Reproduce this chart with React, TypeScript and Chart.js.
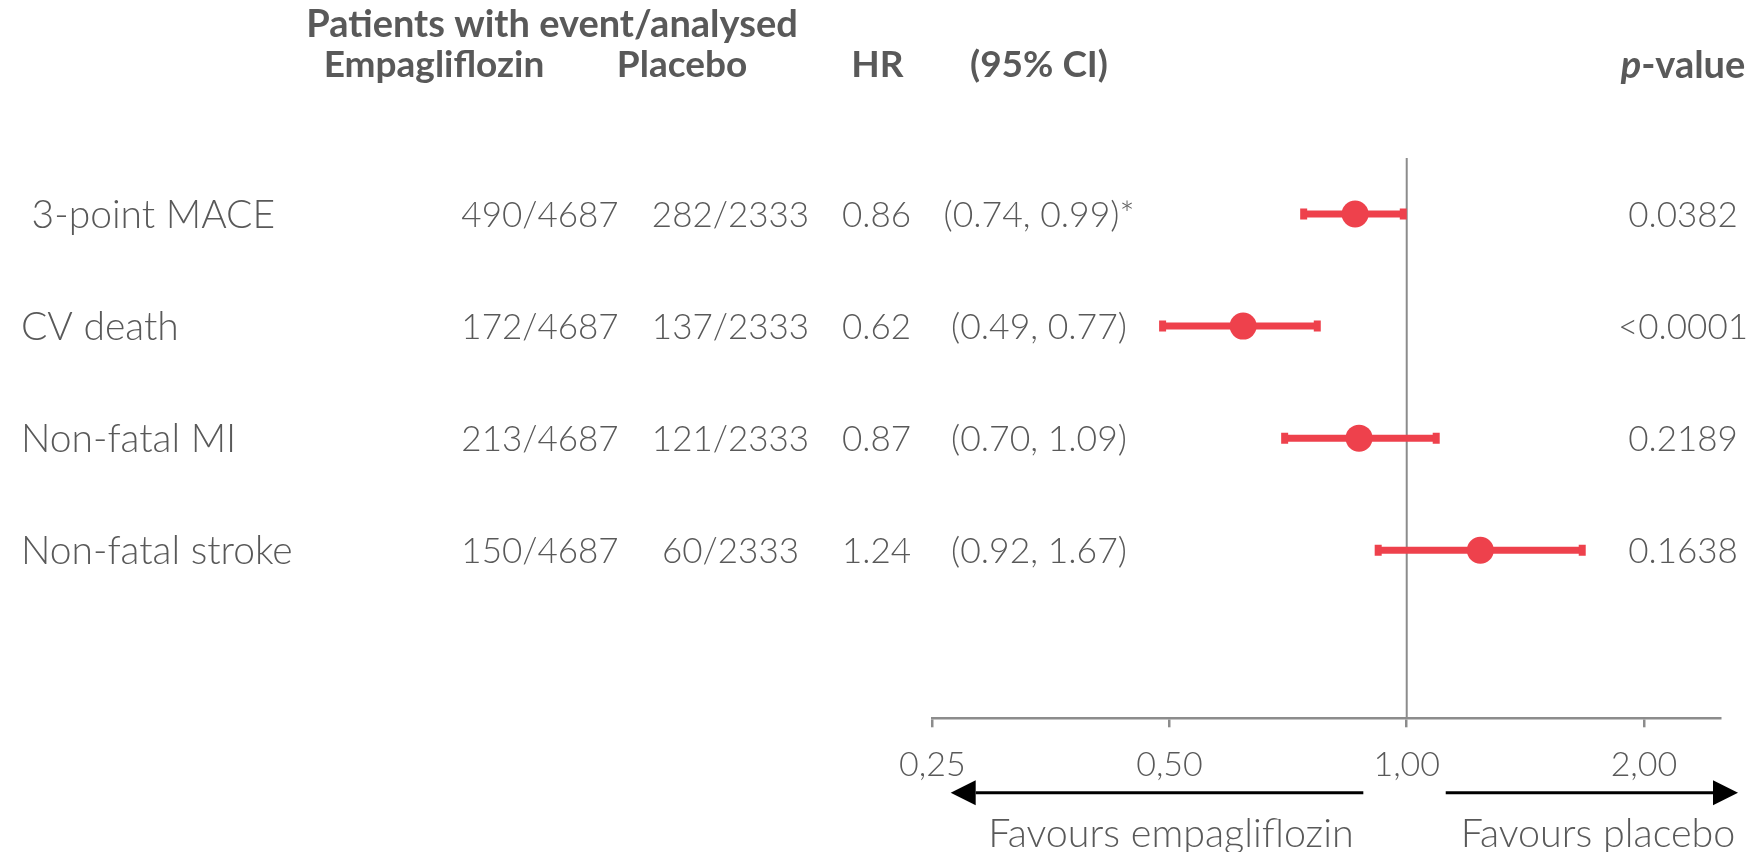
import React, { useEffect, useRef } from "react";
import { Chart, registerables } from "chart.js";

Chart.register(...registerables);

// ---- data ----
const OUTCOMES = [" 3-point MACE", "CV death", "Non-fatal MI", "Non-fatal stroke"];
const EMPA_EVENTS = ["490/4687", "172/4687", "213/4687", "150/4687"];
const PLACEBO_EVENTS = ["282/2333", "137/2333", "121/2333", "60/2333"];
const HR = [0.86, 0.62, 0.87, 1.24];
const CI_LOW = [0.74, 0.49, 0.7, 0.92];
const CI_HIGH = [0.99, 0.77, 1.09, 1.67];
const CI_NOTE = ["*", "", "", ""];
const P_VALUES = ["0.0382", "<0.0001", "0.2189", "0.1638"];
const X_TICKS = [0.25, 0.5, 1, 2];
const X_MIN = 0.25;
const X_MAX = 2.5;
const HEADER_TOP = "Patients with event/analysed";
const HEADER_COLS = ["Empagliflozin", "Placebo", "HR", "(95% CI)"];
const FAVOURS_LEFT = "Favours empagliflozin";
const FAVOURS_RIGHT = "Favours placebo";

// ---- styles ----
const RED = "#EE414C";
const TEXT = "#595959";
const AXIS = "#8c8c8c";
const FONT = "Lato, 'Open Sans', 'DejaVu Sans', sans-serif";

function drawText(
  ctx: CanvasRenderingContext2D,
  str: string,
  x: number,
  yc: number,
  size: number,
  weight: number | string,
  align: CanvasTextAlign,
  color = TEXT
) {
  ctx.font = `${weight} ${size}px ${FONT}`;
  ctx.fillStyle = color;
  ctx.textAlign = align;
  ctx.textBaseline = "alphabetic";
  ctx.fillText(str, x, yc + size * 0.36);
}

const tablePlugin = {
  id: "forestTable",
  afterDraw(chart: any) {
    const ctx: CanvasRenderingContext2D = chart.ctx;
    const ys = chart.scales.y;
    const xs = chart.scales.x;
    const area = chart.chartArea;
    ctx.save();

    // headers
    drawText(ctx, HEADER_TOP, 552, 23.5, 38, 700, "center");
    const hx = [434, 682, 877.5, 1039];
    HEADER_COLS.forEach((h, i) => drawText(ctx, h, hx[i], 64, 37, 700, "center"));
    // p-value header with italic p
    const hs = 38;
    ctx.font = `italic 700 ${hs}px ${FONT}`;
    const wp = ctx.measureText("p").width;
    ctx.font = `700 ${hs}px ${FONT}`;
    const wr = ctx.measureText("-value").width;
    const startX = 1683 - (wp + wr) / 2;
    drawText(ctx, "p", startX, 64, hs, "italic 700", "left");
    drawText(ctx, "-value", startX + wp, 64, hs, 700, "left");

    // rows
    OUTCOMES.forEach((name, i) => {
      const yc = ys.getPixelForValue(i);
      drawText(ctx, name, 21, yc, 39, 300, "left");
      drawText(ctx, EMPA_EVENTS[i], 540, yc, 35, 300, "center");
      drawText(ctx, PLACEBO_EVENTS[i], 730.5, yc, 35, 300, "center");
      drawText(ctx, HR[i].toFixed(2), 876.5, yc, 35, 300, "center");
      const ci = `(${CI_LOW[i].toFixed(2)}, ${CI_HIGH[i].toFixed(2)})${CI_NOTE[i]}`;
      drawText(ctx, ci, 1039, yc, 35.5, 300, "center");
      drawText(ctx, P_VALUES[i], 1683, yc, 35, 300, "center");
    });

    // arrows
    const ay = 792.7;
    const x1 = xs.getPixelForValue(1);
    const drawArrow = (from: number, to: number) => {
      const dir = Math.sign(to - from);
      const headLen = 25;
      ctx.strokeStyle = "#000";
      ctx.lineWidth = 3;
      ctx.beginPath();
      ctx.moveTo(from, ay);
      ctx.lineTo(to - dir * headLen, ay);
      ctx.stroke();
      ctx.fillStyle = "#000";
      ctx.beginPath();
      ctx.moveTo(to, ay);
      ctx.lineTo(to - dir * headLen, ay - 12.5);
      ctx.lineTo(to - dir * headLen, ay + 12.5);
      ctx.closePath();
      ctx.fill();
    };
    drawArrow(x1 - 43.4, area.left + 18.4);
    drawArrow(x1 + 39, area.right + 17.7);

    drawText(ctx, FAVOURS_LEFT, 1171, 832.5, 39.5, 300, "center");
    drawText(ctx, FAVOURS_RIGHT, 1598, 832.5, 39.5, 300, "center");

    ctx.restore();
  },
};

export default function App() {
  const ref = useRef<HTMLCanvasElement | null>(null);

  useEffect(() => {
    document.body.style.margin = "0";
    if (!ref.current) return;
    const rows = OUTCOMES.map((_, i) => i);

    const ciSets = rows.map((i) => ({
      type: "scatter" as const,
      data: [
        { x: CI_LOW[i], y: i },
        { x: CI_HIGH[i], y: i },
      ],
      showLine: true,
      borderColor: RED,
      borderWidth: 7,
      pointStyle: "line" as const,
      pointRotation: 90,
      pointRadius: 5.5,
      pointBorderWidth: 7,
      pointBorderColor: RED,
      pointBackgroundColor: RED,
      order: 1,
    }));

    const chart = new Chart(ref.current, {
      type: "scatter",
      data: {
        datasets: [
          {
            data: rows.map((i) => ({ x: HR[i], y: i })),
            pointRadius: 13.5,
            pointBackgroundColor: RED,
            pointBorderWidth: 0,
            pointBorderColor: RED,
            order: 0,
          },
          ...ciSets,
          {
            data: [
              { x: 1, y: -0.5 },
              { x: 1, y: 4.5 },
            ],
            showLine: true,
            borderColor: AXIS,
            borderWidth: 2,
            pointRadius: 0,
            order: 2,
          },
        ],
      },
      options: {
        animation: false,
        responsive: true,
        maintainAspectRatio: false,
        events: [],
        layout: { padding: { left: 932.3, right: 36.7, top: 158, bottom: 0 } },
        plugins: { legend: { display: false }, tooltip: { enabled: false } },
        scales: {
          x: {
            type: "logarithmic",
            min: X_MIN,
            max: X_MAX,
            afterBuildTicks: (scale: any) => {
              scale.ticks = X_TICKS.map((v) => ({ value: v }));
            },
            afterFit: (scale: any) => {
              scale.height = 133.7;
            },
            ticks: {
              autoSkip: false,
              maxRotation: 0,
              padding: 17,
              color: TEXT,
              font: { family: FONT, size: 34, weight: "300" as any },
              callback: (v: any) => Number(v).toFixed(2).replace(".", ","),
            },
            grid: {
              drawOnChartArea: false,
              drawTicks: true,
              tickLength: 9,
              color: AXIS,
              lineWidth: 2.5,
            },
            border: { display: true, color: AXIS, width: 2.5 },
          },
          y: {
            type: "linear",
            min: -0.5,
            max: 4.5,
            reverse: true,
            display: false,
          },
        },
      },
      plugins: [tablePlugin],
    });
    return () => chart.destroy();
  }, []);

  return (
    <div style={{ position: "relative", width: "1757px", height: "852px" }}>
      <canvas ref={ref} />
    </div>
  );
}
